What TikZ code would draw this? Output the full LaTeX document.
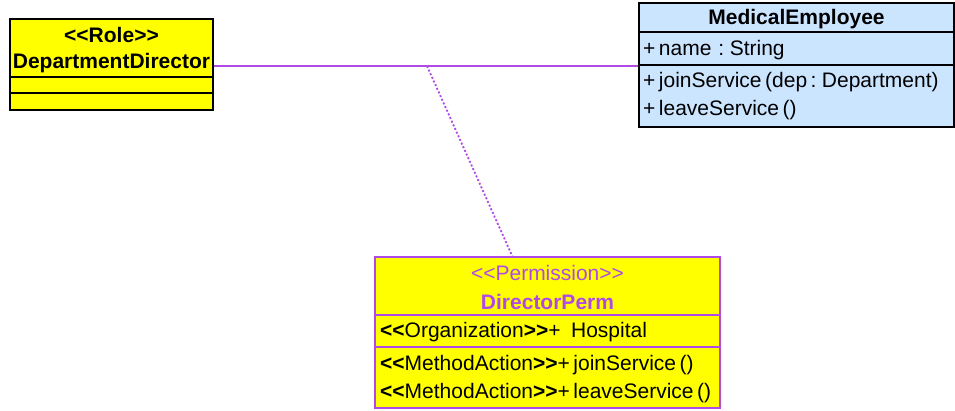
\documentclass[tikz,border=0pt]{standalone}
\usepackage{fontspec}
\newfontfamily\umlfont[WordSpace=0.6]{Liberation Sans}
\usetikzlibrary{positioning}
\definecolor{roleyellow}{HTML}{FFFF00}
\definecolor{classblue}{HTML}{CCE5FF}
\definecolor{permpurple}{HTML}{B04AE6}
\newcommand\stereo[1]{\textbf{<<}#1\textbf{>>}}
\tikzset{
	umlbox/.style={draw, line width=1.3pt, inner sep=0pt},
	umltext/.style={inner sep=0pt, font=\umlfont\fontsize{21}{24}\selectfont},
	umlbold/.style={inner sep=0pt, font=\umlfont\bfseries\fontsize{21}{24}\selectfont},
	umlleft/.style={umltext, anchor=west},
	assoc/.style={permpurple, line width=1.2pt},
	assocdot/.style={permpurple, line width=1.8pt, dash pattern=on 2pt off 2pt}
}
\begin{document}
\begin{tikzpicture}[x=1pt, y=-1pt]
	\useasboundingbox (0,0) rectangle (955,410);
	
	\node [umlbox, fill=roleyellow, minimum width=203pt, minimum height=91pt] (dd) at (111.5,64.5) {};
	\draw [line width=1.2pt] (dd.west |- 0,77) -- (dd.east |- 0,77)
		(dd.west |- 0,93) -- (dd.east |- 0,93);
	\node [umlbold] (ddstereo) at (111.5,35) {<<Role>>};
	\node [umlbold] (ddname) at (111.5,63) {DepartmentDirector};
	
	\node [umlbox, fill=classblue, minimum width=315pt, minimum height=124pt] (me) at (796.5,65) {};
	\draw [line width=1.2pt] (me.west |- 0,32) -- (me.east |- 0,32)
		(me.west |- 0,65) -- (me.east |- 0,65);
	\node [umlbold] (mename) at (796.5,19) {MedicalEmployee};
	\node [umlleft] (meattr) at (643,50) {+ name\, : String};
	\node [umlleft] (mejoin) at (643,82) {+ joinService (dep : Department)};
	\node [umlleft] (meleave) at (643,110) {+ leaveService ()};
	
	\node [umlbox, draw=permpurple, fill=roleyellow, minimum width=345pt, minimum height=151pt] (dp) at (547.5,332.5) {};
	\draw [permpurple, line width=1.2pt] (dp.west |- 0,315) -- (dp.east |- 0,315)
		(dp.west |- 0,347) -- (dp.east |- 0,347);
	\node [umltext, text=permpurple] (dpstereo) at (547.5,273) {<<Permission>>};
	\node [umlbold, text=permpurple] (dpname) at (547.5,302) {DirectorPerm};
	\node [umlleft] (dporg) at (380,332) {\stereo{Organization}+\,\, Hospital};
	\node [umlleft] (dpjoin) at (380,365) {\stereo{MethodAction}+ joinService ()};
	\node [umlleft] (dpleave) at (380,393) {\stereo{MethodAction}+ leaveService ()};
	
	\coordinate (mid) at (427,66);
	\draw [assoc] (dd.east |- mid) -- (me.west |- mid);
	\draw [assocdot] (mid) -- ([xshift=138pt]dp.north west);
\end{tikzpicture}
\end{document}
